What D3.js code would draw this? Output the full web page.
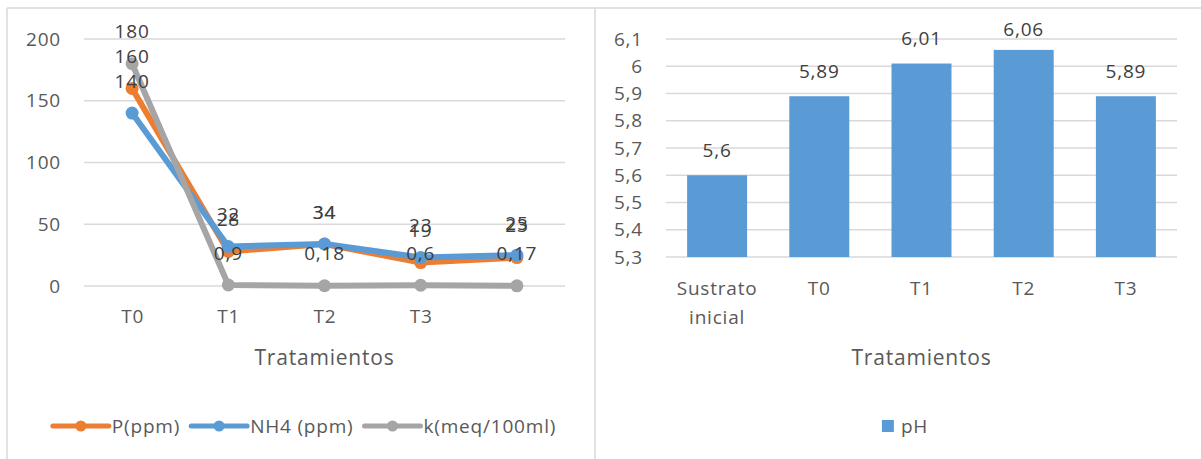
<!DOCTYPE html>
<html>
<head>
<meta charset="utf-8">
<script src="https://cdn.jsdelivr.net/npm/d3@7"></script>
<style>
  body { margin: 0; background: #fff; }
  svg { display: block; }
  text { font-family: "Open Sans", "Noto Sans", sans-serif; letter-spacing: 0.8px; }
</style>
</head>
<body>
<svg id="chart" width="1201" height="459"></svg>
<script>
// ---- Nutrientes por tratamiento ----
const treatments = ["T0", "T1", "T2", "T3", ""];
const pPpm = [160, 28, 34, 19, 23];
const nh4Ppm = [140, 32, 34, 23, 25];
const kMeq = [180, 0.9, 0.18, 0.6, 0.17];
const nutrientTicks = [0, 50, 100, 150, 200];

// ---- pH por tratamiento ----
const phCategories = ["Sustrato inicial", "T0", "T1", "T2", "T3"];
const phValues = [5.6, 5.89, 6.01, 6.06, 5.89];
const phTicks = [5.3, 5.4, 5.5, 5.6, 5.7, 5.8, 5.9, 6.0, 6.1];

const seriesNames = ["P(ppm)", "NH4 (ppm)", "k(meq/100ml)"];
const seriesColors = ["#ED7D31", "#5B9BD5", "#A5A5A5"];

const TEXT = "#595959", LABEL = "#404040", GRID = "#D9D9D9";
const comma = v => String(+v.toFixed(2)).replace(".", ",");

const svg = d3.select("#chart");

// chart frames
const frame = svg.append("g").attr("stroke", GRID).attr("stroke-width", 1.5);
frame.append("line").attr("x1", 7).attr("x2", 1201).attr("y1", 8).attr("y2", 8);
frame.append("line").attr("x1", 7).attr("x2", 7).attr("y1", 8).attr("y2", 459);
frame.append("line").attr("x1", 595).attr("x2", 595).attr("y1", 8).attr("y2", 459);

// ================= left: line chart =================
const xL = d3.scaleBand().domain(d3.range(treatments.length)).range([84, 565]);
const cx = i => xL(i) + xL.bandwidth() / 2;
const yL = d3.scaleLinear().domain([0, 200]).range([286, 39]);

const left = svg.append("g");
left.append("g").selectAll("line").data(nutrientTicks).join("line")
  .attr("x1", 84).attr("x2", 565)
  .attr("y1", d => yL(d)).attr("y2", d => yL(d))
  .attr("stroke", GRID).attr("stroke-width", 1.5);

const yAxisL = left.append("g").attr("transform", "translate(84,0)")
  .call(d3.axisLeft(yL).tickValues(nutrientTicks).tickSize(0).tickPadding(23));
yAxisL.select(".domain").remove();
yAxisL.selectAll("text").attr("fill", TEXT).style("font-size", "19px").style("font-family", null);

const xAxisL = left.append("g").attr("transform", "translate(0,286)")
  .call(d3.axisBottom(d3.scalePoint().domain(d3.range(treatments.length)).range([cx(0), cx(treatments.length - 1)]))
    .tickFormat(i => treatments[i]).tickSize(0).tickPadding(24));
xAxisL.select(".domain").remove();
xAxisL.selectAll("text").attr("fill", TEXT).style("font-size", "19px").style("font-family", null);

const seriesData = [pPpm, nh4Ppm, kMeq];
const line = d3.line().x((d, i) => cx(i)).y(d => yL(d));

seriesData.forEach((vals, s) => {
  const g = left.append("g");
  g.append("path").datum(vals).attr("d", line)
    .attr("fill", "none").attr("stroke", seriesColors[s]).attr("stroke-width", 6)
    .attr("stroke-linejoin", "round").attr("stroke-linecap", "round");
  g.selectAll("circle").data(vals).join("circle")
    .attr("cx", (d, i) => cx(i)).attr("cy", d => yL(d)).attr("r", 6.5)
    .attr("fill", seriesColors[s]);
});

seriesData.forEach((vals) => {
  left.append("g").selectAll("text").data(vals).join("text")
    .attr("x", (d, i) => cx(i)).attr("y", d => yL(d) - 32).attr("dy", "0.35em")
    .attr("text-anchor", "middle").attr("fill", LABEL).style("font-size", "19px")
    .text(d => comma(d));
});

left.append("text").attr("x", 324.5).attr("y", 365).attr("text-anchor", "middle")
  .attr("fill", TEXT).style("font-size", "21px").text("Tratamientos");

// legend (left)
function legend(g, items, centerX, y) {
  const lg = g.append("g");
  let x = 0;
  items.forEach(it => {
    const ig = lg.append("g").attr("transform", `translate(${x},0)`);
    let w;
    if (it.type === "line") {
      ig.append("line").attr("x1", 0).attr("x2", 56).attr("y1", y).attr("y2", y)
        .attr("stroke", it.color).attr("stroke-width", 5).attr("stroke-linecap", "round");
      ig.append("circle").attr("cx", 28).attr("cy", y).attr("r", 5.5).attr("fill", it.color);
      w = 59;
    } else {
      ig.append("rect").attr("x", 0).attr("y", y - 6).attr("width", 12).attr("height", 12).attr("fill", it.color);
      w = 19;
    }
    const t = ig.append("text").attr("x", w).attr("y", y).attr("dy", "0.35em")
      .attr("fill", TEXT).style("font-size", "19px").text(it.name);
    x += w + t.node().getComputedTextLength() + 11;
  });
  const total = x - 11;
  lg.attr("transform", `translate(${centerX - total / 2},0)`);
}
legend(left, seriesNames.map((n, i) => ({ name: n, color: seriesColors[i], type: "line" })), 304.5, 426);

// ================= right: bar chart =================
const xR = d3.scaleBand().domain(d3.range(phCategories.length)).range([666, 1177])
  .paddingInner(0.413).paddingOuter(0.2065);
const yR = d3.scaleLinear().domain([5.3, 6.1]).range([257, 39]);

const right = svg.append("g");
right.append("g").selectAll("line").data(phTicks).join("line")
  .attr("x1", 666).attr("x2", 1177)
  .attr("y1", d => yR(d)).attr("y2", d => yR(d))
  .attr("stroke", GRID).attr("stroke-width", 1.5);

const yAxisR = right.append("g").attr("transform", "translate(666,0)")
  .call(d3.axisLeft(yR).tickValues(phTicks).tickFormat(comma).tickSize(0).tickPadding(23));
yAxisR.select(".domain").remove();
yAxisR.selectAll("text").attr("fill", TEXT).style("font-size", "19px").style("font-family", null);

right.append("g").selectAll("rect").data(phValues).join("rect")
  .attr("x", (d, i) => xR(i)).attr("width", xR.bandwidth())
  .attr("y", d => yR(d)).attr("height", d => yR(5.3) - yR(d))
  .attr("fill", "#5B9BD5");

right.append("g").selectAll("text").data(phValues).join("text")
  .attr("x", (d, i) => xR(i) + xR.bandwidth() / 2)
  .attr("y", d => Math.max(yR(d) - 25, yR.range()[1] - 10)).attr("dy", "0.35em")
  .attr("text-anchor", "middle").attr("fill", LABEL).style("font-size", "19px")
  .text(d => comma(d));

const xAxisR = right.append("g").attr("transform", "translate(0,257)")
  .call(d3.axisBottom(xR).tickFormat(i => phCategories[i]).tickSize(0).tickPadding(25));
xAxisR.select(".domain").remove();
xAxisR.selectAll("text").attr("fill", TEXT).style("font-size", "19px").style("font-family", null)
  .each(function () {
    const t = d3.select(this);
    const words = t.text().split(" ");
    if (words.length > 1) {
      const dy = t.attr("dy");
      t.text(null);
      words.forEach((w, k) => {
        t.append("tspan").attr("x", 0).attr("dy", k === 0 ? dy : "29px").text(w);
      });
    }
  });

right.append("text").attr("x", 921.5).attr("y", 365).attr("text-anchor", "middle")
  .attr("fill", TEXT).style("font-size", "21px").text("Tratamientos");

legend(right, [{ name: "pH", color: "#5B9BD5", type: "rect" }], 905, 426);
</script>
</body>
</html>
